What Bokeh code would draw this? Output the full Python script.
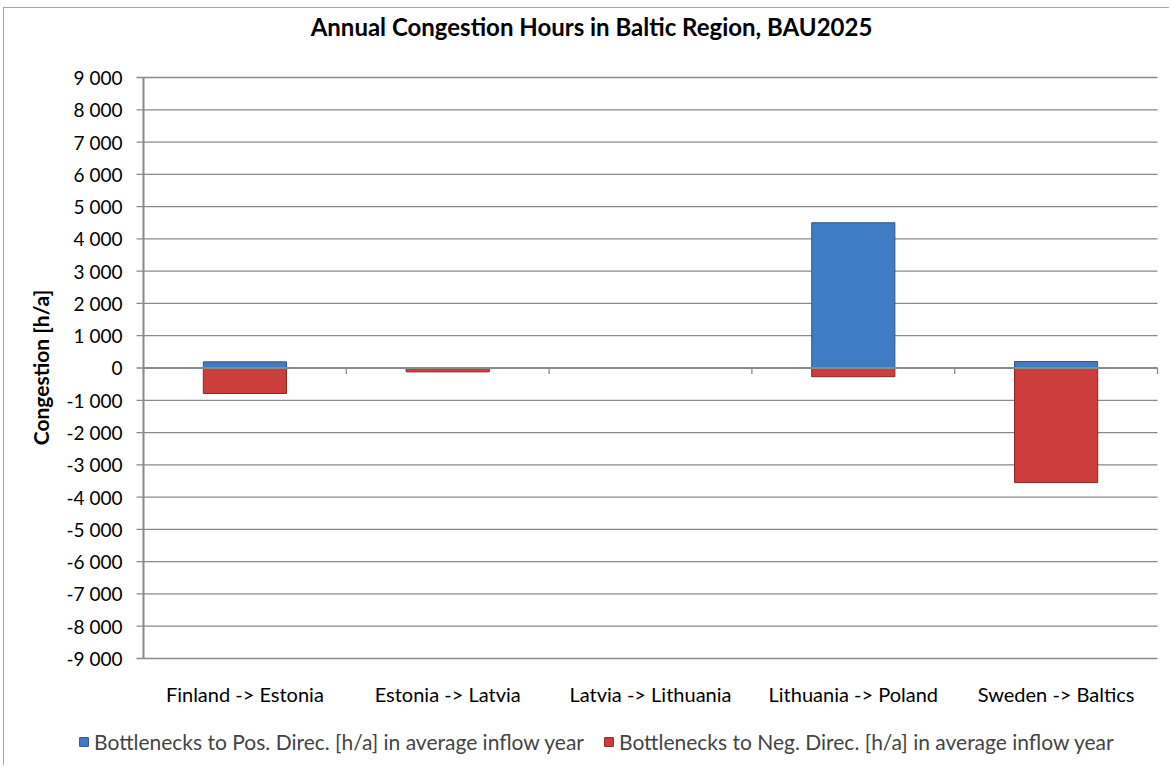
import math
from bokeh.plotting import figure
from bokeh.models import (Range1d, Legend, LegendItem, Label, LabelSet, ColumnDataSource)
from bokeh.core.properties import value
from bokeh.embed import file_html
from bokeh.resources import INLINE

# ---- data ----
categories = ["Finland -> Estonia", "Estonia -> Latvia", "Latvia -> Lithuania",
              "Lithuania -> Poland", "Sweden -> Baltics"]
pos_direc = [190, 0, 0, 4500, 200]
neg_direc = [-790, -120, 0, -270, -3550]
y_ticks = list(range(-9000, 9001, 1000))
y_tick_labels = ["-9 000", "-8 000", "-7 000", "-6 000", "-5 000", "-4 000", "-3 000",
                 "-2 000", "-1 000", "0", "1 000", "2 000", "3 000", "4 000", "5 000",
                 "6 000", "7 000", "8 000", "9 000"]
series_names = ["Bottlenecks to Pos. Direc. [h/a] in average inflow year",
                "Bottlenecks to Neg. Direc. [h/a] in average inflow year"]
title_text = "Annual Congestion Hours in Baltic Region, BAU2025"
y_title = "Congestion [h/a]"

FONT = value("Lato")
GRID = "#8a8a8a"

n = len(categories)
centers = [i + 0.5 for i in range(n)]
boundaries = list(range(n + 1))
y_min, y_max = y_ticks[0], y_ticks[-1]

# ---- pixel layout (canvas 1166 x 758; plot area 1014 x 581 inside it) ----
W, H = 1166, 758
PLOT_L, PLOT_R, PLOT_T, PLOT_B = 139, 13, 69, 108      # margins around the value area
ppx = (W - PLOT_L - PLOT_R) / n                          # px per category
ppy = (H - PLOT_T - PLOT_B) / (y_max - y_min)            # px per unit
x_range = Range1d(-PLOT_L / ppx, n + PLOT_R / ppx)
y_range = Range1d(y_min - PLOT_B / ppy, y_max + PLOT_T / ppy)

src = ColumnDataSource(dict(x=centers, pos=pos_direc, neg=neg_direc,
                            lab=categories, base=[y_min] * n))
ysrc = ColumnDataSource(dict(y=y_ticks, lab=y_tick_labels, x0=[0] * len(y_ticks),
                             x1=[n] * len(y_ticks)))
bsrc = ColumnDataSource(dict(x=boundaries, y0=[0] * len(boundaries)))

p = figure(width=W, height=H, x_range=x_range, y_range=y_range,
           output_backend="svg", toolbar_location=None,
           x_axis_location=None, y_axis_location=None,
           min_border_left=0, min_border_right=0, min_border_top=0, min_border_bottom=0,
           outline_line_color=None, background_fill_color="white",
           styles={"margin-left": "3px", "margin-top": "7px",
                   "border-left": "1px solid #a6a6a6", "border-top": "1px solid #a6a6a6"})
p.xgrid.visible = False
p.ygrid.visible = False

# horizontal gridlines
p.segment(x0="x0", y0="y", x1="x1", y1="y", source=ysrc, line_color=GRID, line_width=1.3)

# bars
r_pos = p.vbar(x="x", width=0.41, bottom=0, top="pos", source=src,
               fill_color="#3f7cc6", line_color="#2b5689", line_width=1)
r_neg = p.vbar(x="x", width=0.41, bottom=0, top="neg", source=src,
               fill_color="#cc3d3b", line_color="#8a2524", line_width=1)

# value axis line and ticks
p.segment(x0=0, y0=y_min, x1=0, y1=y_max, line_color=GRID, line_width=2)
p.segment(x0="x0", y0="y", x1=-7 / ppx, y1="y", source=ysrc, line_color=GRID, line_width=1.3)
p.add_layout(LabelSet(x="x0", y="y", text="lab", source=ysrc, x_offset=-21,
                      text_font=FONT, text_font_size="19px", text_color="black",
                      text_align="right", text_baseline="middle"))

# zero line with category boundary ticks
p.segment(x0=0, y0=0, x1=n, y1=0, line_color=GRID, line_width=2)
p.segment(x0="x", y0="y0", x1="x", y1=-6 / ppy, source=bsrc, line_color=GRID, line_width=1.3)

# category labels
p.add_layout(LabelSet(x="x", y="base", text="lab", source=src, y_offset=-35,
                      text_font=FONT, text_font_size="20px", text_color="black",
                      text_align="center", text_baseline="middle"))

# value axis title
p.add_layout(Label(x=36, y=H - 367 + 8, x_units="screen", y_units="screen",
                   text=y_title, angle=math.pi / 2, text_font="Lato", text_font_style="bold",
                   text_font_size="21px", text_align="center", text_baseline="middle",
                   text_color="black"))

# chart title
p.add_layout(Label(x=587, y=H - 26 + 8, x_units="screen", y_units="screen",
                   text=title_text, text_font="Lato", text_font_style="bold",
                   text_font_size="24px", text_align="center", text_baseline="middle",
                   text_color="black"))

# legend
legend = Legend(items=[LegendItem(label=series_names[0], renderers=[r_pos]),
                       LegendItem(label=series_names[1], renderers=[r_neg])],
                orientation="horizontal", location=(74, 12),
                padding=0, margin=0, spacing=19,
                glyph_width=11, glyph_height=11, label_standoff=5,
                label_text_font="Lato", label_text_font_size="21px",
                background_fill_alpha=0, border_line_color=None)
p.add_layout(legend)

open("out.html", "w").write(file_html(p, INLINE))
